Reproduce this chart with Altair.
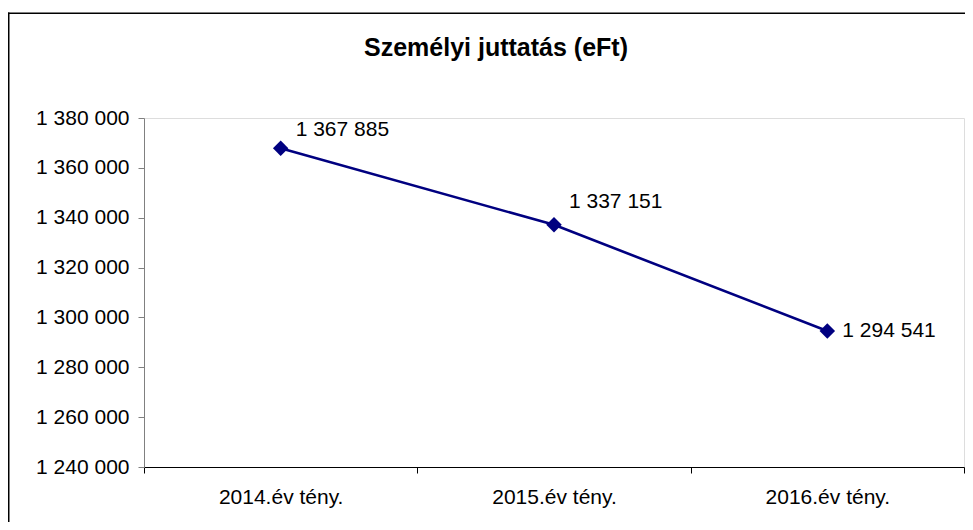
import altair as alt
import pandas as pd

categories = ["2014.év tény.", "2015.év tény.", "2016.év tény."]
values = [1367885, 1337151, 1294541]
y_ticks = [1240000, 1260000, 1280000, 1300000, 1320000, 1340000, 1360000, 1380000]
title_text = "Személyi juttatás (eFt)"

df = pd.DataFrame({"cat": categories, "val": values})
FONT = "Liberation Sans"
NAVY = "#000080"

x = alt.X(
    "cat:N", sort=categories, bandPosition=0.5,
    scale=alt.Scale(type="band", paddingInner=0, paddingOuter=0),
    axis=alt.Axis(title=None, tickBand="extent", labelAngle=0, grid=False,
                  domainColor="black", tickColor="black", tickSize=6,
                  labelPadding=13, labelFontSize=21, labelFont=FONT,
                  labelColor="black"),
)
y = alt.Y(
    "val:Q",
    scale=alt.Scale(domain=[1240000, 1380000], nice=False, zero=False),
    axis=alt.Axis(title=None, values=y_ticks, format=",d", grid=False,
                  domainColor="#808080", tickColor="#808080", tickSize=6,
                  labelPadding=9, labelFontSize=21, labelFont=FONT,
                  labelColor="black"),
)

base = alt.Chart(df)
line = base.mark_line(color=NAVY, strokeWidth=2.6).encode(x=x, y=y)
points = base.mark_point(shape="diamond", filled=True, size=240, color=NAVY, opacity=1).encode(x=x, y=y)

def label(i, dx, dy):
    return base.mark_text(align="left", baseline="alphabetic", dx=dx, dy=dy,
                          fontSize=21, font=FONT, color="black").encode(
        x=x, y=y, text=alt.Text("val:Q", format=",d")
    ).transform_filter(alt.datum.cat == categories[i])

labels = label(0, 15, -12) + label(1, 15, -17) + label(2, 15, 6)

one = alt.Chart(pd.DataFrame({"t": [title_text]}))
title = one.mark_text(align="center", baseline="alphabetic", fontSize=25,
                      fontWeight="bold", font=FONT, color="black").encode(
    x=alt.value(352), y=alt.value(-62), text="t:N")
frame_left = one.mark_rule(color="black", strokeWidth=1.6).encode(
    x=alt.value(-135.3), y=alt.value(-105.5), y2=alt.value(420))
frame_top = one.mark_rule(color="black", strokeWidth=1.6).encode(
    x=alt.value(-136.1), x2=alt.value(830), y=alt.value(-104.7))

chart = alt.layer(frame_left, frame_top, title, line, points, labels).properties(
    width=820, height=349,
    autosize=alt.AutoSizeParams(type="none"),
    padding={"left": 136, "top": 110, "right": 1, "bottom": 55},
    background="white",
).configure_view(stroke=None).configure(
    locale={"number": {"decimal": ",", "thousands": " ", "grouping": [3], "currency": ["", " Ft"]}}
)

chart.save("out.html", embed_options={"renderer": "svg", "actions": False})
